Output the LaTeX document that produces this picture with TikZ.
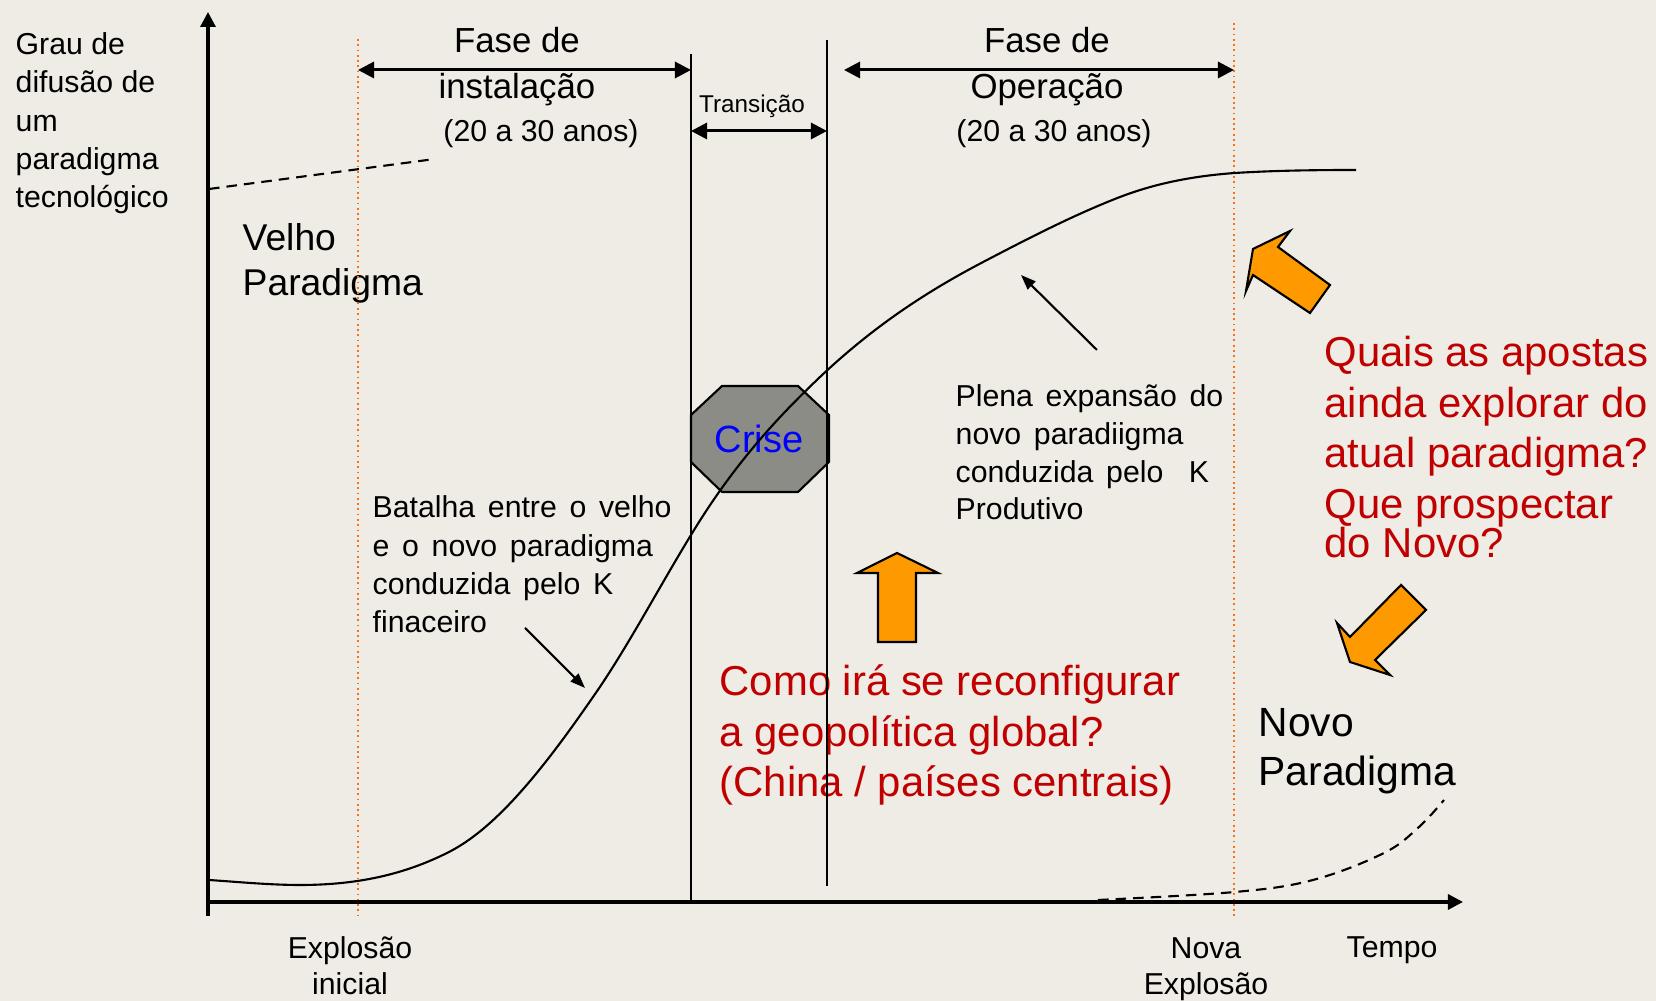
\documentclass[tikz,border=0pt]{standalone}
\usepackage{fontspec}
\setmainfont{Liberation Sans}
\usepackage{tikz}
\usetikzlibrary{positioning,arrows.meta}

\definecolor{bgbeige}{RGB}{238,236,228}
\definecolor{arroworange}{RGB}{255,153,0}
\definecolor{questred}{RGB}{192,0,0}
\definecolor{crisegray}{RGB}{140,140,134}
\definecolor{dotorange}{RGB}{255,110,20}

\begin{document}
\begin{tikzpicture}[x=0.01cm, y=-0.01cm,
    smalltxt/.style={inner sep=0pt, align=left, anchor=base west, font=\fontsize{8.6}{10.9}\selectfont},
    widetxt/.style={smalltxt, execute at begin node={\spaceskip=0.42em\relax}},
    phasetxt/.style={inner sep=0pt, align=center, anchor=base, font=\fontsize{9.9}{13.1}\selectfont},
    paratxt/.style={inner sep=0pt, align=left, anchor=base west},
    questtxt/.style={inner sep=0pt, align=left, anchor=base west, text=questred, font=\fontsize{11.9}{14.4}\selectfont},
    phasearrow/.style={{Triangle[length=0.16cm,width=0.16cm]}-{Triangle[length=0.16cm,width=0.16cm]}, line width=0.85pt},
    axisline/.style={-{Triangle[length=0.15cm,width=0.15cm]}, line width=0.9pt},
    epoch/.style={dotorange, densely dotted, line width=0.5pt},
    divider/.style={line width=0.6pt},
    blockarrow/.style={fill=arroworange, draw=black, line width=0.6pt},
    pointer/.style={-{Triangle[length=0.15cm,width=0.11cm]}, line width=0.6pt}]
    \path[use as bounding box, fill=bgbeige] (0,0) rectangle (1656,1001);

    % crise octagon
    \filldraw[fill=crisegray, line width=0.6pt] (722,386) -- (798,386) -- (829,415) -- (829,462) -- (798,492) -- (722,492) -- (691,462) -- (691,415) -- cycle;
    \node[text=blue, inner sep=0pt, font=\fontsize{10.8}{13}\selectfont] (crise) at (759,439) {Crise};

    % texts (anchored on the baseline of their last line)
    \node[smalltxt] (grau) at (15,208) {Grau de\\difusão de\\um\\paradigma\\tecnológico};
    \node[phasetxt] (faseinst) at (517,99) {Fase de\\instalação};
    \node[smalltxt, anchor=base] (anosinst) at (541,142) {(20 a 30 anos)};
    \node[phasetxt] (faseop) at (1047,99) {Fase de\\Operação};
    \node[smalltxt, anchor=base] (anosop) at (1054,142) {(20 a 30 anos)};
    \node[inner sep=0pt, anchor=base, font=\fontsize{6.9}{8}\selectfont] (transicao) at (752,113) {Transição};
    \node[paratxt, font=\fontsize{10.6}{12.9}\selectfont] (velho) at (242,296) {Velho\\Paradigma};
    \node[paratxt, font=\fontsize{11.6}{14.2}\selectfont] (novo) at (1258,786) {Novo\\Paradigma};
    \node[widetxt] (batalha) at (372,633) {Batalha entre o velho\\e o novo paradigma\\conduzida pelo K\\finaceiro};
    \node[widetxt, font=\fontsize{8.6}{10.75}\selectfont] (plena) at (955,520) {Plena expansão do\\novo paradiigma\\conduzida pelo\ \ K\\Produtivo};
    \node[questtxt] (geopol) at (719,797) {Como irá se reconfigurar\\a geopolítica global?\\(China / países centrais)};
    \node[questtxt] (apostas) at (1324,558) {Quais as apostas\\ainda explorar do\\atual paradigma?\\Que prospectar\\[-0.11cm]do Novo?};
    \node[smalltxt, align=center, anchor=base, font=\fontsize{8.6}{10.5}\selectfont] (explinicial) at (350,995) {Explosão\\inicial};
    \node[smalltxt, align=center, anchor=base, font=\fontsize{8.6}{10.5}\selectfont] (explnova) at (1206,995) {Nova\\Explosão};
    \node[smalltxt] (tempo) at (1346,958) {Tempo};

    % axes and guide lines
    \coordinate (origin) at (208,902);
    \coordinate (ytop) at (208,12);
    \coordinate (ybase) at (208,916);
    \coordinate (xtip) at (1463,902);
    \coordinate (explA) at (358,39);
    \coordinate (explAbot) at (358,916);
    \coordinate (explB) at (1234,23);
    \coordinate (explBbot) at (1234,916);
    \coordinate (transA) at (691,54);
    \coordinate (transAbot) at (691,902);
    \coordinate (transB) at (827,40);
    \coordinate (transBbot) at (827,886);
    \draw[epoch] (explA) -- (explAbot);
    \draw[epoch] (explB) -- (explBbot);
    \draw[divider] (transA) -- (transAbot);
    \draw[divider] (transB) -- (transBbot);
    \draw[axisline] (ybase) -- (ytop);
    \draw[axisline] (origin) -- (xtip);

    % phase arrows
    \coordinate (instL) at (358,70);
    \coordinate (instR) at (691,70);
    \coordinate (transL) at (691,131);
    \coordinate (transR) at (827,131);
    \coordinate (opL) at (844,70);
    \coordinate (opR) at (1234,70);
    \draw[phasearrow] (instL) -- (instR);
    \draw[phasearrow] (transL) -- (transR);
    \draw[phasearrow] (opL) -- (opR);

    % diffusion curves
    \coordinate (oldA) at (209,189);
    \coordinate (oldB) at (435,159);
    \draw[dash pattern=on 3pt off 2pt, line width=0.6pt] (oldA) -- (oldB);
    \draw[line width=0.6pt] (209,880) .. controls (239,882) and (270,885) .. (300,885)
        .. controls (349,885) and (398,877.5) .. (447,853)
        .. controls (496,829) and (544,768) .. (593,697)
        .. controls (626,650) and (658,589) .. (691,535)
        .. controls (734,464) and (777,418) .. (820,377)
        .. controls (876,324) and (931,289) .. (987,260)
        .. controls (1031,237) and (1076,214) .. (1120,197)
        .. controls (1158,182.4) and (1197,175.7) .. (1235,173)
        .. controls (1275,170.5) and (1316,170) .. (1356,170);
    \draw[dash pattern=on 3pt off 2pt, line width=0.6pt] plot[smooth, tension=0.6] coordinates {(1098,900) (1235,892) (1313,880) (1384,853) (1419,827) (1444,800)};

    % pointers
    \coordinate (batTail) at (525,628);
    \coordinate (batTip) at (585,688);
    \coordinate (plenaTail) at (1097,350);
    \coordinate (plenaTip) at (1021,275);
    \draw[pointer] (batTail) -- (batTip);
    \draw[pointer] (plenaTail) -- (plenaTip);

    % orange block arrows
    \filldraw[blockarrow] (897,553) -- (938,573) -- (916,573) -- (916,642) -- (878,642) -- (878,573) -- (857,573) -- cycle;
    \filldraw[blockarrow] (1290,231) -- (1278,247) -- (1330,285) -- (1310,313) -- (1253,275) -- (1246,291) -- (1253,249) -- cycle;
    \filldraw[blockarrow] (1401,585) -- (1426,610) -- (1375,660) -- (1390,675) -- (1350,662) -- (1337,623) -- (1350,637) -- cycle;
\end{tikzpicture}
\end{document}
